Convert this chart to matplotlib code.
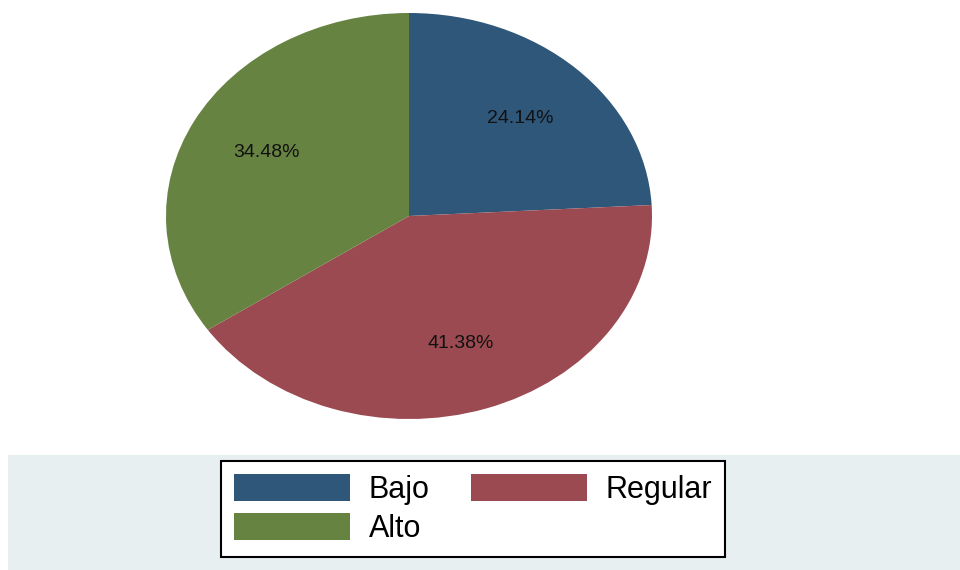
import matplotlib
matplotlib.use("Agg")
import matplotlib.pyplot as plt
from matplotlib.patches import Rectangle, Patch

categories = ["Bajo", "Regular", "Alto"]
percentages = [24.14, 41.38, 34.48]
colors = ["#2F5779", "#9A4A50", "#678342"]

plt.rcParams['font.family'] = ['Liberation Sans', 'DejaVu Sans']

fig = plt.figure(figsize=(9.6, 5.7), dpi=100)
W, H = 960, 570

# light band behind the legend
band = Rectangle((8 / W, 0), 1 - 8 / W, (570 - 455) / H, transform=fig.transFigure,
                 facecolor="#E8EFF1", edgecolor="none", zorder=0)
fig.patches.append(band)

# pie axes (elliptical)
left, right, top, bottom = 166, 652, 13, 419
ax = fig.add_axes([left / W, 1 - bottom / H, (right - left) / W, (bottom - top) / H])
wedges, texts, autotexts = ax.pie(
    percentages, colors=colors, startangle=90, counterclock=False,
    autopct=lambda p: f"{p:.2f}%", pctdistance=0.665,
    wedgeprops=dict(edgecolor="none", linewidth=0),
    textprops=dict(fontsize=14, color="#111111"))
ax.set_aspect("auto")
ax.set_xlim(-1, 1)
ax.set_ylim(-1, 1)
ax.axis("off")

# legend filled row by row: Bajo, Regular / Alto
order = [0, 2, 1]
handles = [Patch(facecolor=colors[i], edgecolor="none") for i in order]
labels = [categories[i] for i in order]
leg = fig.legend(handles, labels, ncol=2, loc="center",
                 bbox_to_anchor=((217 + 729) / 2 / W, 1 - (464 + 554) / 2 / H),
                 fontsize=22, frameon=True, fancybox=False,
                 handlelength=3.8, handleheight=0.98, handletextpad=0.6,
                 columnspacing=1.35, labelspacing=0.28, borderpad=0.42,
                 borderaxespad=0)
frame = leg.get_frame()
frame.set_edgecolor("black")
frame.set_linewidth(1.5)
frame.set_facecolor("white")
frame.set_alpha(1)

fig.savefig("out.png", dpi=100)
